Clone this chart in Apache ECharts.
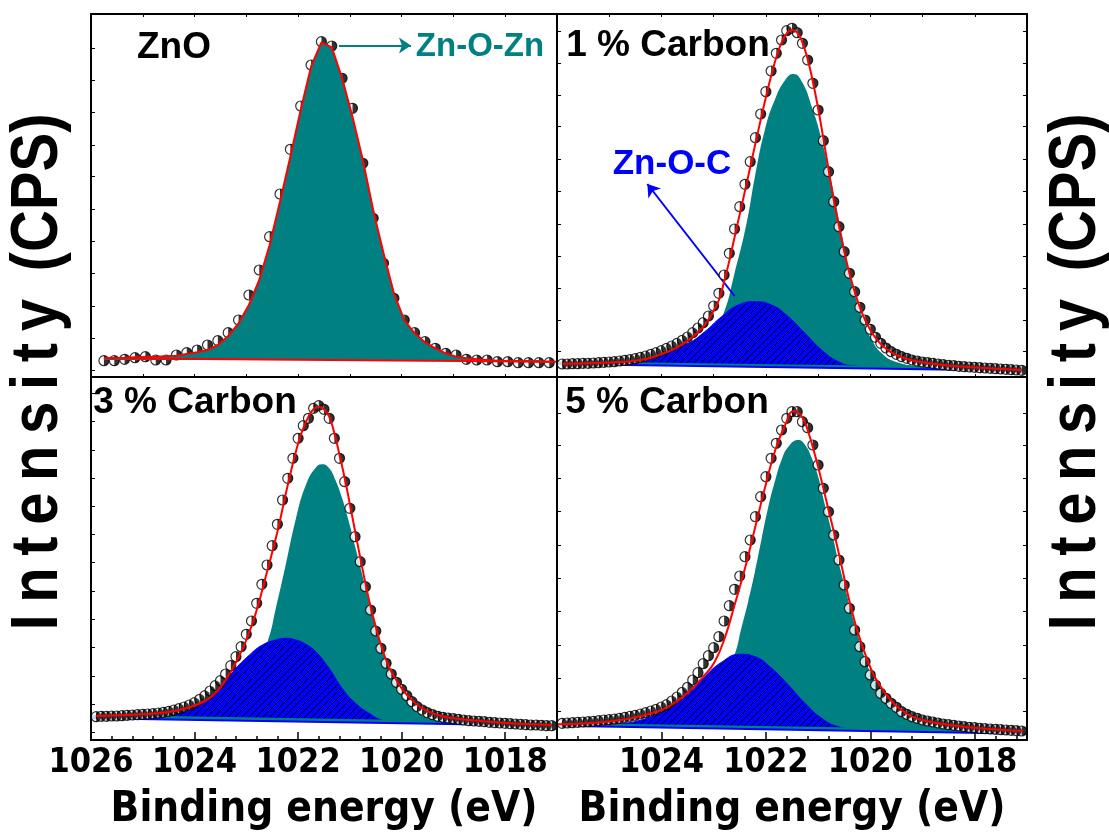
<!DOCTYPE html>
<html><head><meta charset="utf-8">
<script src="https://cdn.jsdelivr.net/npm/echarts@6/dist/echarts.min.js"></script>
<style>html,body{margin:0;padding:0;background:#fff}#c{width:1109px;height:840px}</style>
</head><body><div id="c"></div>
<script>
// ---------------- DATA ----------------
// Binding energy grid (eV) of the ZnO spectrum
const energyZnO = [1025.75,1025.55,1025.35,1025.15,1024.95,1024.75,1024.55,1024.35,1024.15,1023.95,1023.75,1023.55,1023.35,1023.15,1022.95,1022.75,1022.55,1022.35,1022.15,1021.95,1021.75,1021.55,1021.35,1021.15,1020.95,1020.75,1020.55,1020.35,1020.15,1019.95,1019.75,1019.55,1019.35,1019.15,1018.95,1018.75,1018.55,1018.35,1018.15,1017.95,1017.75,1017.55,1017.35,1017.15];
const countsZnO = [16.3,16.3,17.7,19.3,20.3,17,17,22,24.3,27,32,36.3,44.3,57,82,107,140.3,183,227.7,271,312,335.3,331,298.7,268.7,213.7,158.7,113.7,78.7,57,44.3,35.3,28.7,23.7,22,17.7,17,17,15.3,15.3,14.3,14.3,14.3,14.3];
const fitZnO = [18.7,19.0,19.3,19.7,20.0,20.3,20.7,21.3,23.0,24.7,27.0,32.0,41.0,53.7,72.0,97.0,132.0,175.3,220.3,267.0,310.3,334.7,329.7,298.7,260.3,217.0,167.0,123.7,83.7,57.0,43.7,34.7,28.7,23.7,20.3,18.7,17.7,17.0,16.3,16.0,15.7,15.7,15.3,15.3];
const baseZnO = [[1025.75,18.7],[1017.0,15.3]];
const ZNO_FILL_FLOOR = 17;

// Binding energy grid (eV) of the carbon-doped spectra
const energyC = [1025.9,1025.8,1025.7,1025.6,1025.5,1025.4,1025.3,1025.2,1025.1,1025.0,
 1024.9,1024.8,1024.7,1024.6,1024.5,1024.4,1024.3,1024.2,1024.1,1024.0,
 1023.9,1023.8,1023.7,1023.6,1023.5,1023.4,1023.3,1023.2,1023.1,1023.0,
 1022.9,1022.8,1022.7,1022.6,1022.5,1022.4,1022.3,1022.2,1022.1,1022.0,
 1021.9,1021.8,1021.7,1021.6,1021.5,1021.4,1021.3,1021.2,1021.1,1021.0,
 1020.9,1020.8,1020.7,1020.6,1020.5,1020.4,1020.3,1020.2,1020.1,1020.0,
 1019.9,1019.8,1019.7,1019.6,1019.5,1019.4,1019.3,1019.2,1019.1,1019.0,
 1018.9,1018.8,1018.7,1018.6,1018.5,1018.4,1018.3,1018.2,1018.1,1018.0,
 1017.9,1017.8,1017.7,1017.6,1017.5,1017.4,1017.3,1017.2,1017.1];

// 1 % Carbon
const counts1C = [13.0,13.0,13.3,13.3,13.7,13.7,14.0,14.3,14.7,15.0,
 15.3,16.0,16.7,17.3,18.3,19.7,21.0,22.7,24.3,26.3,
 28.7,31.0,33.7,36.7,40.0,44.3,49.0,54.3,61.0,71.0,
 83.7,102.0,123.7,148.0,170.3,192.7,215.3,239.3,263.0,285.3,
 306.0,323.7,337.0,346.3,348.7,344.3,333.7,317.0,293.7,267.0,
 236.3,205.3,175.3,150.3,125.3,103.7,85.3,69.7,57.0,47.7,
 39.7,33.7,29.0,25.3,22.7,20.3,18.7,17.0,16.0,15.0,
 14.3,13.7,13.0,12.3,11.7,11.3,10.7,10.3,10.0,9.7,
 9.3,9.0,8.7,8.3,8.0,7.7,7.3,7.0,6.7];
const fit1C = [[1025.9,13.3],[1025.3,14.0],[1024.8,15.0],[1024.4,17.0],[1024.1,21.0],[1023.8,27.0],[1023.6,32.7],[1023.4,40.3],[1023.2,50.3],[1023.0,66.3],[1022.9,77.0],[1022.8,95.3],[1022.7,116.3],[1022.6,139.7],[1022.5,163.0],[1022.4,186.3],[1022.3,209.7],[1022.2,233.7],[1022.1,257.0],[1022.0,279.7],[1021.9,301.0],[1021.8,319.7],[1021.7,334.3],[1021.6,343.7],[1021.5,347.0],[1021.4,344.3],[1021.3,334.3],[1021.2,317.7],[1021.1,295.3],[1021.0,268.7],[1020.9,238.7],[1020.8,207.7],[1020.7,177.0],[1020.6,151.0],[1020.5,125.7],[1020.4,103.7],[1020.3,85.3],[1020.2,69.7],[1020.1,57.0],[1020.0,47.0],[1019.9,39.0],[1019.8,33.0],[1019.7,28.3],[1019.6,24.7],[1019.5,22.0],[1019.3,18.0],[1019.0,14.7],[1018.4,11.0],[1017.1,7.0]];
const znozn1C = [[1026.0,14.3],[1024.13,16.3],[1023.49,22.0],[1023.11,33.7],[1022.82,62.0],[1022.60,103.7],[1022.37,153.7],[1022.21,200.3],[1022.02,247.0],[1021.83,277.0],[1021.63,297.0],[1021.47,303.0],[1021.31,295.3],[1021.12,270.3],[1020.93,237.0],[1020.74,193.7],[1020.54,141.0],[1020.35,94.0],[1020.16,60.3],[1019.97,37.0],[1019.78,23.7],[1019.52,15.3],[1019.01,11.0],[1017.08,8.0]];
const znoc1C = [[1026.0,13.0],[1024.78,15.3],[1024.13,20.3],[1023.49,33.7],[1023.17,45.3],[1022.85,60.3],[1022.53,72.0],[1022.21,75.3],[1021.89,72.0],[1021.57,60.3],[1021.25,43.7],[1020.93,27.0],[1020.61,15.3],[1020.29,11.0],[1019.65,9.3],[1017.08,6.3]];
const tealBase1C = [[1026,14.3],[1017,7.7]];
const blueBase1C = [[1026,13.0],[1017,6.3]];

// 3 % Carbon
const counts3C = [23.3,23.7,23.7,24.0,24.0,24.3,24.7,25.0,25.3,25.7,
 26.0,26.3,27.0,27.7,28.7,30.0,31.3,33.0,35.0,37.3,
 40.7,44.3,49.0,54.3,59.3,66.0,74.3,83.3,93.3,105.7,
 119.0,136.7,155.7,175.0,194.3,215.7,240.0,261.7,281.7,301.7,
 314.3,321.7,331.7,334.3,330.7,321.7,301.7,281.7,258.3,231.7,
 203.3,178.3,153.3,130.0,109.0,91.7,76.7,66.0,57.7,50.7,
 44.3,38.3,33.3,30.0,27.3,25.3,23.7,22.7,22.0,21.3,
 20.7,20.0,19.3,19.0,18.7,18.3,17.7,17.3,17.0,16.7,
 16.3,16.0,15.7,15.3,15.0,15.0,14.7,14.3,14.3];
const fit3C = [[1025.9,24.0],[1025.3,25.0],[1024.7,26.7],[1024.4,29.0],[1024.1,32.7],[1023.8,39.0],[1023.6,46.7],[1023.4,60.0],[1023.2,77.7],[1023.0,100.0],[1022.8,130.0],[1022.6,168.3],[1022.4,208.3],[1022.2,255.0],[1022.0,296.7],[1021.9,311.7],[1021.8,323.3],[1021.7,331.0],[1021.6,333.3],[1021.5,330.7],[1021.4,323.3],[1021.3,306.7],[1021.2,285.0],[1021.1,261.7],[1021.0,235.7],[1020.9,209.0],[1020.8,182.3],[1020.7,156.7],[1020.6,133.3],[1020.5,113.3],[1020.4,95.0],[1020.3,80.0],[1020.2,68.3],[1020.0,51.7],[1019.8,40.0],[1019.6,31.7],[1019.3,25.0],[1019.0,21.7],[1018.3,18.3],[1017.7,16.3],[1017.1,15.0]];
const znozn3C = [[1026.0,23.7],[1024.10,26.7],[1023.46,30.0],[1023.01,45.0],[1022.59,98.3],[1022.43,131.7],[1022.24,175.0],[1022.04,221.7],[1021.85,255.0],[1021.66,272.3],[1021.53,275.7],[1021.40,271.7],[1021.28,260.0],[1021.15,241.7],[1021.02,218.3],[1020.89,191.7],[1020.76,165.0],[1020.63,138.3],[1020.51,115.0],[1020.38,91.7],[1020.25,71.7],[1020.12,56.7],[1019.96,43.3],[1019.80,33.3],[1019.61,25.0],[1019.35,20.0],[1018.97,17.7],[1018.33,16.7],[1017.04,16.3]];
const znoc3C = [[1026.0,23.3],[1025.38,24.7],[1024.74,27.3],[1024.22,30.5],[1023.90,36.0],[1023.58,47.0],[1023.26,68.3],[1022.94,85.0],[1022.69,95.0],[1022.43,100.0],[1022.24,101.7],[1022.04,100.0],[1021.85,95.7],[1021.66,88.3],[1021.40,71.7],[1021.15,51.7],[1020.89,36.7],[1020.63,26.7],[1020.38,20.0],[1019.93,16.7],[1018.97,15.0],[1017.04,13.3]];
const tealBase3C = [[1026,23.7],[1017,16.0]];
const blueBase3C = [[1026,21.7],[1017,14.3]];

// 5 % Carbon
const counts5C = [16.7,17.0,17.3,17.7,18.0,18.3,18.7,19.3,20.0,20.3,
 21.0,21.7,22.7,23.7,24.7,26.0,27.3,29.0,30.7,33.0,
 35.3,39.0,43.0,47.7,52.7,60.0,67.3,76.3,84.3,92.3,
 103.3,119.0,134.3,150.7,164.0,183.3,200.0,223.3,243.3,263.3,
 281.7,296.7,310.0,321.7,328.3,328.3,318.3,312.3,295.0,275.0,
 251.7,228.3,205.0,180.0,155.0,131.7,110.0,93.3,78.3,65.0,
 55.0,46.7,41.7,36.7,32.7,28.3,25.7,23.3,21.7,20.0,
 19.0,18.0,17.0,16.0,15.3,14.7,14.0,13.3,12.7,12.3,
 11.7,11.3,11.0,10.7,10.3,10.0,9.7,9.3,9.0];
const fit5C = [[1026.0,15.7],[1025.42,16.7],[1024.78,20.0],[1024.46,23.3],[1024.13,27.7],[1023.81,35.0],[1023.49,47.7],[1023.17,65.0],[1022.98,78.3],[1022.79,101.7],[1022.60,135.0],[1022.40,171.7],[1022.21,211.7],[1022.02,251.7],[1021.83,288.3],[1021.63,315.0],[1021.46,329.0],[1021.31,323.3],[1021.19,308.3],[1021.06,285.0],[1020.93,258.3],[1020.80,230.0],[1020.67,201.7],[1020.54,171.7],[1020.42,143.3],[1020.29,116.7],[1020.16,95.0],[1020.03,76.7],[1019.90,61.7],[1019.71,46.7],[1019.52,35.0],[1019.26,25.0],[1019.01,20.0],[1018.37,14.3],[1017.72,11.0],[1017.08,9.0]];
const znozn5C = [[1026.0,15.7],[1024.13,18.3],[1023.49,25.0],[1022.98,38.3],[1022.60,85.0],[1022.47,111.7],[1022.34,138.3],[1022.21,168.3],[1022.08,201.7],[1021.96,231.7],[1021.83,258.3],[1021.70,280.0],[1021.57,293.3],[1021.38,300.0],[1021.25,295.0],[1021.12,281.7],[1020.99,261.7],[1020.87,235.0],[1020.74,208.3],[1020.61,178.3],[1020.48,151.7],[1020.35,125.0],[1020.22,101.7],[1020.10,81.0],[1019.97,65.0],[1019.78,48.3],[1019.58,35.0],[1019.33,23.3],[1019.01,16.7],[1018.37,11.0],[1017.08,8.3]];
const znoc5C = [[1026.0,14.3],[1024.78,16.7],[1024.46,19.0],[1024.13,25.0],[1023.81,33.3],[1023.49,45.7],[1023.17,63.3],[1022.85,77.7],[1022.50,85.7],[1022.21,83.3],[1021.89,71.7],[1021.57,55.0],[1021.25,36.7],[1020.93,21.7],[1020.61,13.3],[1020.29,11.0],[1019.65,9.0],[1017.08,6.7]];
const tealBase5C = [[1026,15.7],[1017,8.3]];
const blueBase5C = [[1026,14.3],[1017,6.3]];

// annotation arrows (data coordinates)
const arrowZnOZn = [[1021.21,331.5],[1019.82,331.5]];
const arrowZnOC = [[1022.60,81],[1024.27,193]];

// axis ticks and labels
const xMajor = [1018,1020,1022,1024,1026];
const xLabelsLeft = [1018,1020,1022,1024,1026];
const xLabelsRight = [1018,1020,1022,1024];
const xMinor = [1017.2,1017.6,1018.4,1018.8,1019.2,1019.6,1020.4,1020.8,1021.2,1021.6,1022.4,1022.8,1023.2,1023.6,1024.4,1024.8,1025.2,1025.6];
const yTicksZnO = [7,38.7,71,103.7,136,168,200.3,232,264.7,297,328.7];
const yTicks1C = [25.3,57,88.7,121,153,185.3,217.7,250.3,282,313.7,346];
const yTicks3C = [7.7,35.7,64,92.3,120.7,149,177.7,205.7,234,261.7,290,318.3,346.6];
const yTicks5C = [28.3,61.7,95,128.3,161.7,195,228.3,261.7,295,326.7];

// ---------------- STYLE ----------------
const TEAL = '#008080', BLUE = '#0000ff', RED = '#ff0000';
const SANS = '"Liberation Sans",Arial,Helvetica,sans-serif';
// pick a condensed bold face if one is installed (the reference axis text is narrow)
function pickCondensed() {
  const ctx = document.createElement('canvas').getContext('2d');
  const probe = 'Binding energy 1024';
  ctx.font = 'bold 40px monospace';
  const ref = ctx.measureText(probe).width;
  const cands = ['Liberation Sans Narrow','DejaVu Sans Condensed','Roboto Condensed','Open Sans Condensed','Arial Narrow'];
  for (const c of cands) {
    ctx.font = 'bold 40px "' + c + '", monospace';
    if (Math.abs(ctx.measureText(probe).width - ref) > 0.5) return '"' + c + '",' + SANS;
  }
  return SANS;
}
const AXFONT = pickCondensed();
function sizeFor(text, targetWidth) {
  const ctx = document.createElement('canvas').getContext('2d');
  ctx.font = 'bold 100px ' + AXFONT;
  return Math.round(100 * targetWidth / ctx.measureText(text).width);
}
const TICK_SIZE = sizeFor('1024', 86);
const NAME_SIZE = sizeFor('Binding energy (eV)', 430);

const X_MIN = 1017, X_MAX = 1026, Y_MAX = 363;
const rects = [
  {left:91, top:14, width:466, height:363},
  {left:557, top:14, width:470, height:363},
  {left:91, top:377, width:466, height:363},
  {left:557, top:377, width:470, height:363}
];
const HALF = 'path://M0,0 A10,10 0 0 1 0,20 Z';

function hatchCanvas() {
  const c = document.createElement('canvas'); c.width = 7; c.height = 7;
  const g = c.getContext('2d');
  g.fillStyle = BLUE; g.fillRect(0,0,7,7);
  g.strokeStyle = '#000'; g.lineWidth = 1;
  g.beginPath(); g.moveTo(-1,8); g.lineTo(8,-1); g.stroke();
  g.beginPath(); g.moveTo(-1,1); g.lineTo(1,-1); g.stroke();
  g.beginPath(); g.moveTo(6,8); g.lineTo(8,6); g.stroke();
  return c;
}
const HATCH = {image: hatchCanvas(), repeat: 'repeat'};

const pts = (xs, ys) => xs.map((x,i) => [x, ys[i]]);
const LINE = {show:true, onZero:false, lineStyle:{color:'#000', width:2}};

// ---------------- AXES ----------------
const grids = rects.concat([rects[2], rects[3]]);
const xAxes = [], yAxes = [];
function xAx(grid, pos, extra) {
  return Object.assign({type:'value', gridIndex:grid, position:pos, min:X_MIN, max:X_MAX, inverse:true,
    axisLine:LINE, axisTick:{show:false}, axisLabel:{show:false}, splitLine:{show:false}, z:10}, extra||{});
}
function yAx(grid, pos, ticks) {
  return {type:'value', gridIndex:grid, position:pos, min:0, max:Y_MAX,
    axisLine:LINE, axisLabel:{show:false}, splitLine:{show:false}, z:10,
    axisTick: ticks ? {show:true, inside:true, length:4, customValues:ticks, lineStyle:{color:'#000', width:1}} : {show:false}};
}
const smallTicks = {show:true, inside:true, length:3, lineStyle:{color:'#000', width:1}};
const nameStyle = {fontFamily:AXFONT, fontWeight:'bold', fontSize:NAME_SIZE, color:'#000'};
const labelStyle = {show:true, fontFamily:AXFONT, fontWeight:'bold', fontSize:TICK_SIZE, color:'#000', margin:6,
  hideOverlap:false, formatter: v => String(Math.round(v))};
// grid 0 (ZnO)
xAxes.push(xAx(0,'bottom',{interval:1, axisTick:smallTicks}));
xAxes.push(xAx(0,'top',{interval:1, axisTick:smallTicks}));
yAxes.push(yAx(0,'left',yTicksZnO)); yAxes.push(yAx(0,'right',null));
// grid 1 (1 % C)
xAxes.push(xAx(1,'bottom',{interval:1, axisTick:smallTicks}));
xAxes.push(xAx(1,'top',{interval:1, axisTick:smallTicks}));
yAxes.push(yAx(1,'left',yTicks1C)); yAxes.push(yAx(1,'right',yTicks1C));
// grid 2 (3 % C)
xAxes.push(xAx(2,'bottom',{
  axisTick:{show:true, inside:true, length:8, customValues:xMajor, lineStyle:{color:'#000', width:1.5}},
  axisLabel:Object.assign({customValues:xLabelsLeft}, labelStyle),
  name:'Binding energy (eV)', nameLocation:'middle', nameGap:49, nameTextStyle:nameStyle}));
xAxes.push(xAx(2,'top'));
yAxes.push(yAx(2,'left',yTicks3C)); yAxes.push(yAx(2,'right',null));
// grid 3 (5 % C)
xAxes.push(xAx(3,'bottom',{
  axisTick:{show:true, inside:true, length:8, customValues:xMajor, lineStyle:{color:'#000', width:1.5}},
  axisLabel:Object.assign({customValues:xLabelsRight}, labelStyle),
  name:'Binding energy (eV)', nameLocation:'middle', nameGap:49, nameTextStyle:nameStyle}));
xAxes.push(xAx(3,'top'));
yAxes.push(yAx(3,'left',yTicks5C)); yAxes.push(yAx(3,'right',yTicks5C));
// overlay grids 4,5: minor ticks of bottom axes
[4,5].forEach(g => {
  xAxes.push(xAx(g,'bottom',{axisLine:{show:false}, z:11,
    axisTick:{show:true, inside:true, length:4, customValues:xMinor, lineStyle:{color:'#000', width:1.5}}}));
  yAxes.push({type:'value', gridIndex:g, min:0, max:Y_MAX, show:false});
});

// ---------------- SERIES ----------------
function scatterPair(xi, yi, data, z) {
  return [
    {type:'scatter', xAxisIndex:xi, yAxisIndex:yi, data:data, symbol:'circle', symbolSize:10,
     itemStyle:{color:'#fff', borderColor:'#000', borderWidth:1.2}, z:z, silent:true},
    {type:'scatter', xAxisIndex:xi, yAxisIndex:yi, data:data, symbol:HALF, symbolSize:[5,10], symbolOffset:[2.5,0],
     itemStyle:{color:'#000'}, z:z+1, silent:true}
  ];
}
function arrowLine(pair, color) {
  return {silent:true, symbol:['none','arrow'], symbolSize:12, symbolKeepAspect:true, label:{show:false}, animation:false,
    lineStyle:{color:color, width:2, type:'solid'}, emphasis:{disabled:true},
    data:[[{coord:pair[0]},{coord:pair[1]}]]};
}
const series = [];
// ZnO panel
series.push(...scatterPair(0, 0, pts(energyZnO, countsZnO), 2));
series.push({type:'line', xAxisIndex:0, yAxisIndex:0, data:pts(energyZnO, fitZnO), symbol:'none',
  lineStyle:{color:RED, width:2}, areaStyle:{color:TEAL, opacity:1, origin:ZNO_FILL_FLOOR}, z:4, silent:true});
series.push({type:'line', xAxisIndex:0, yAxisIndex:0, data:baseZnO, symbol:'none',
  lineStyle:{color:RED, width:2}, z:5, silent:true, markLine:arrowLine(arrowZnOZn, TEAL)});

function carbonPanel(g, counts, fit, teal, blue, tealBase, blueBase, extra) {
  const xi = g*2, yi = g*2;
  const out = [
    {type:'line', xAxisIndex:xi, yAxisIndex:yi, data:teal, smooth:0.5, symbol:'none',
      lineStyle:{width:0}, areaStyle:{color:TEAL, opacity:1}, z:1, silent:true},
    Object.assign({type:'line', xAxisIndex:xi, yAxisIndex:yi, data:blue, smooth:0.5, symbol:'none',
      lineStyle:{color:BLUE, width:1}, areaStyle:{color:HATCH, opacity:1}, z:2, silent:true}, extra||{}),
    {type:'line', xAxisIndex:xi, yAxisIndex:yi, data:blueBase, symbol:'none',
      lineStyle:{width:0}, areaStyle:{color:'#fff', opacity:1}, z:3, silent:true},
    {type:'line', xAxisIndex:xi, yAxisIndex:yi, data:tealBase, symbol:'none',
      lineStyle:{color:TEAL, width:3}, z:4, silent:true},
    {type:'line', xAxisIndex:xi, yAxisIndex:yi, data:blueBase, symbol:'none',
      lineStyle:{color:BLUE, width:2}, z:4, silent:true}
  ];
  out.push(...scatterPair(xi, yi, pts(energyC, counts), 5));
  out.push({type:'line', xAxisIndex:xi, yAxisIndex:yi, data:fit, smooth:0.5, symbol:'none',
    lineStyle:{color:RED, width:2}, z:7, silent:true});
  return out;
}
series.push(...carbonPanel(1, counts1C, fit1C, znozn1C, znoc1C, tealBase1C, blueBase1C,
  {markLine:arrowLine(arrowZnOC, BLUE)}));
series.push(...carbonPanel(2, counts3C, fit3C, znozn3C, znoc3C, tealBase3C, blueBase3C));
series.push(...carbonPanel(3, counts5C, fit5C, znozn5C, znoc5C, tealBase5C, blueBase5C));

// ---------------- TEXT ----------------
function txt(x, y, s, size, color, extra) {
  return Object.assign({type:'text', x:x, y:y, z:100, silent:true,
    style:{text:s, fill:color||'#000', font:'bold '+size+'px '+SANS, align:'center', verticalAlign:'middle'}}, extra||{});
}
const yTitle = 'I\u2009n\u2009t\u2009e\u2009n\u2009s\u2009i\u2009t\u2009y \u2009(CPS)';
const graphic = [
  txt(174, 48, 'ZnO', 37),
  txt(480, 47, 'Zn-O-Zn', 33, TEAL),
  txt(668, 46, '1 % Carbon', 37),
  txt(672, 164, 'Zn-O-C', 35, BLUE),
  txt(195, 403, '3 % Carbon', 37),
  txt(667, 403, '5 % Carbon', 37),
  txt(39, 372, yTitle, 58, '#000', {rotation:Math.PI/2, scaleY:1.15}),
  txt(1077, 372, yTitle, 58, '#000', {rotation:Math.PI/2, scaleY:1.15})
];

const chart = echarts.init(document.getElementById('c'), null, {renderer:'canvas'});
chart.setOption({
  animation:false, backgroundColor:'#fff',
  grid: grids.map(r => Object.assign({containLabel:false}, r)),
  xAxis: xAxes, yAxis: yAxes, series: series, graphic: graphic
});
</script></body></html>
